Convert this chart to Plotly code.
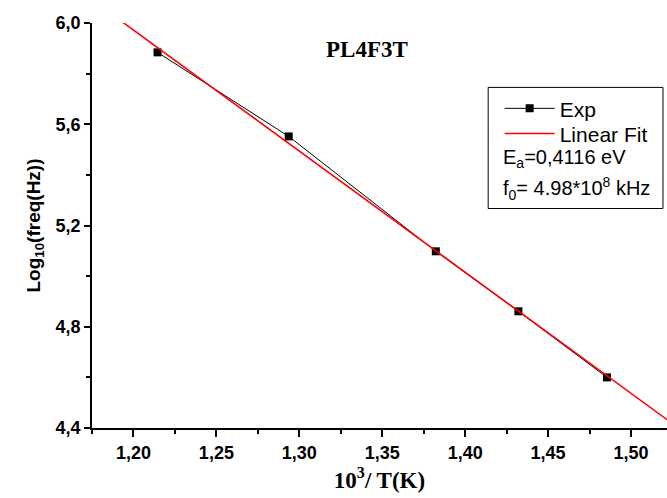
import numpy as np
import plotly.graph_objects as go

# Arrhenius data: inverse temperature vs log10 of relaxation frequency
inv_T = [1.2145, 1.2936, 1.3823, 1.4321, 1.4855]
log_freq = [5.884, 5.552, 5.098, 4.861, 4.600]

# span over which the linear fit is drawn
fit_span = [1.1934, 1.535]

sample_name = "PL4F3T"
activation_text = "E<sub>a</sub>=0,4116 eV"
prefactor_text = "f<sub>0</sub>= 4.98*10<sup>8</sup> kHz"

slope, intercept = np.polyfit(inv_T, log_freq, 1)
fit_x = np.array(fit_span)
fit_y = slope * fit_x + intercept

fig = go.Figure()
fig.add_trace(go.Scatter(
    x=inv_T, y=log_freq, mode="lines+markers", name="Exp",
    line=dict(color="black", width=1),
    marker=dict(symbol="square", size=8, color="black"),
    legend="legend",
))
fig.add_trace(go.Scatter(
    x=fit_x, y=fit_y, mode="lines", name="Linear Fit",
    line=dict(color="#ff0000", width=1.6),
    legend="legend2",
))

tick_font = dict(family="Liberation Sans, Arial", size=18, color="black", weight="bold")
legend_font = dict(family="Liberation Sans, Arial", size=21, color="black")
param_font = dict(family="Liberation Sans, Arial", size=20, color="black")

legend_common = dict(xanchor="left", yanchor="top", bgcolor="rgba(0,0,0,0)",
                     borderwidth=0, font=legend_font, itemwidth=50)

fig.update_layout(
    width=667, height=498,
    margin=dict(l=92, r=0, t=23, b=70),
    paper_bgcolor="white", plot_bgcolor="white",
    separators=",.",
    showlegend=True,
    legend=dict(x=0.709, y=0.839, **legend_common),
    legend2=dict(x=0.709, y=0.777, **legend_common),
    xaxis=dict(
        range=[1.175, 1.5217], tick0=1.20, dtick=0.05, tickformat=".2f",
        ticks="outside", ticklen=7, tickwidth=1.5, tickcolor="black",
        minor=dict(ticks="outside", ticklen=4, tickwidth=1.5, tickcolor="black", dtick=0.025, tick0=1.175),
        showline=True, linecolor="black", linewidth=1.8,
        showgrid=False, zeroline=False,
        tickfont=tick_font,
        title=dict(text="<b>10<sup>3</sup>/ T(K)</b>", standoff=10,
                   font=dict(family="Liberation Serif, Times New Roman", size=23, color="black")),
    ),
    yaxis=dict(
        range=[4.4, 6.0], tick0=4.4, dtick=0.4, tickformat=".1f",
        ticks="outside", ticklen=6, tickwidth=1.5, tickcolor="black",
        minor=dict(ticks="outside", ticklen=4, tickwidth=1.5, tickcolor="black", dtick=0.2),
        showline=True, linecolor="black", linewidth=1.8,
        showgrid=False, zeroline=False,
        tickfont=tick_font,
        title=dict(text="<b>Log<sub>10</sub>(freq(Hz))</b>", standoff=10,
                   font=dict(family="Liberation Sans, Arial", size=19, color="black")),
    ),
)

# legend frame and the fit parameters listed under the legend entries
fig.add_shape(type="rect", xref="paper", yref="paper",
              x0=0.689, x1=0.993, y0=0.542, y1=0.841,
              line=dict(color="black", width=1), fillcolor="rgba(0,0,0,0)")
fig.add_annotation(xref="paper", yref="paper", x=0.711, y=0.665, xanchor="left", yanchor="middle",
                   text=activation_text, showarrow=False, font=param_font)
fig.add_annotation(xref="paper", yref="paper", x=0.711, y=0.592, xanchor="left", yanchor="middle",
                   text=prefactor_text, showarrow=False, font=param_font)

fig.add_annotation(xref="paper", yref="paper", x=0.478, y=0.935, xanchor="center", yanchor="middle",
                   text="<b>" + sample_name + "</b>", showarrow=False,
                   font=dict(family="Liberation Serif, Times New Roman", size=23, color="black"))

fig.write_html("out.html")
